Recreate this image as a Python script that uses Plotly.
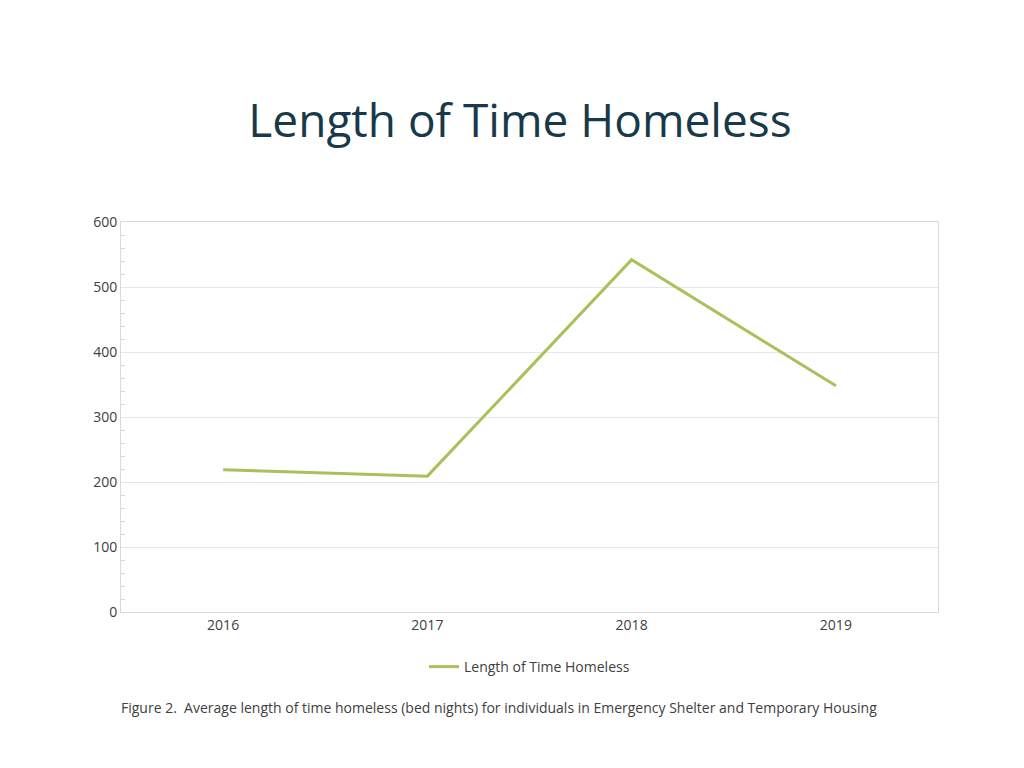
import plotly.graph_objects as go

# Data
years = ['2016', '2017', '2018', '2019']
nights = [219, 209, 542, 348]
series_name = 'Length of Time Homeless'

fig = go.Figure()
fig.add_trace(go.Scatter(
    x=years, y=nights, mode='lines', name=series_name,
    line=dict(color='#a9c15a', width=3),
))

# data labels above points
for yr, v in zip(years, nights):
    fig.add_annotation(x=yr, y=v, text=str(v), showarrow=False, yshift=20,
                       font=dict(size=14, color='#404040'))

fig.update_layout(
    width=1024, height=768,
    paper_bgcolor='white', plot_bgcolor='white',
    font=dict(family='Open Sans, sans-serif', color='#404040'),
    margin=dict(l=113, r=94, t=214, b=164),
    title=dict(text='Length of Time Homeless', x=0.5, xanchor='center',
               y=1 - 113 / 768, yanchor='middle', yref='container',
               font=dict(size=46, color='#17394a')),
    showlegend=True,
    legend=dict(orientation='h', x=0.5, xanchor='center', y=-0.1, yanchor='top',
                font=dict(size=14, color='#404040')),
    xaxis=dict(type='category', range=[-0.5, 3.5], showgrid=False,
               showline=True, linecolor='#d9d9d9', mirror=True,
               ticks='', tickfont=dict(size=14)),
    yaxis=dict(range=[0, 600], dtick=100, showgrid=True, gridcolor='#e6e6e6',
               showline=True, linecolor='#d9d9d9', mirror=True,
               zeroline=False, ticks='', tickfont=dict(size=14),
               minor=dict(dtick=20, ticks='inside', ticklen=4, tickcolor='#d9d9d9')),
)

fig.add_annotation(
    text='Figure 2.  Average length of time homeless (bed nights) for individuals in Emergency Shelter and Temporary Housing',
    xref='paper', yref='paper', x=-0.003, xanchor='left', y=-0.245, yanchor='middle',
    showarrow=False, font=dict(size=14, color='#404040'),
)

fig.write_html('out.html')
